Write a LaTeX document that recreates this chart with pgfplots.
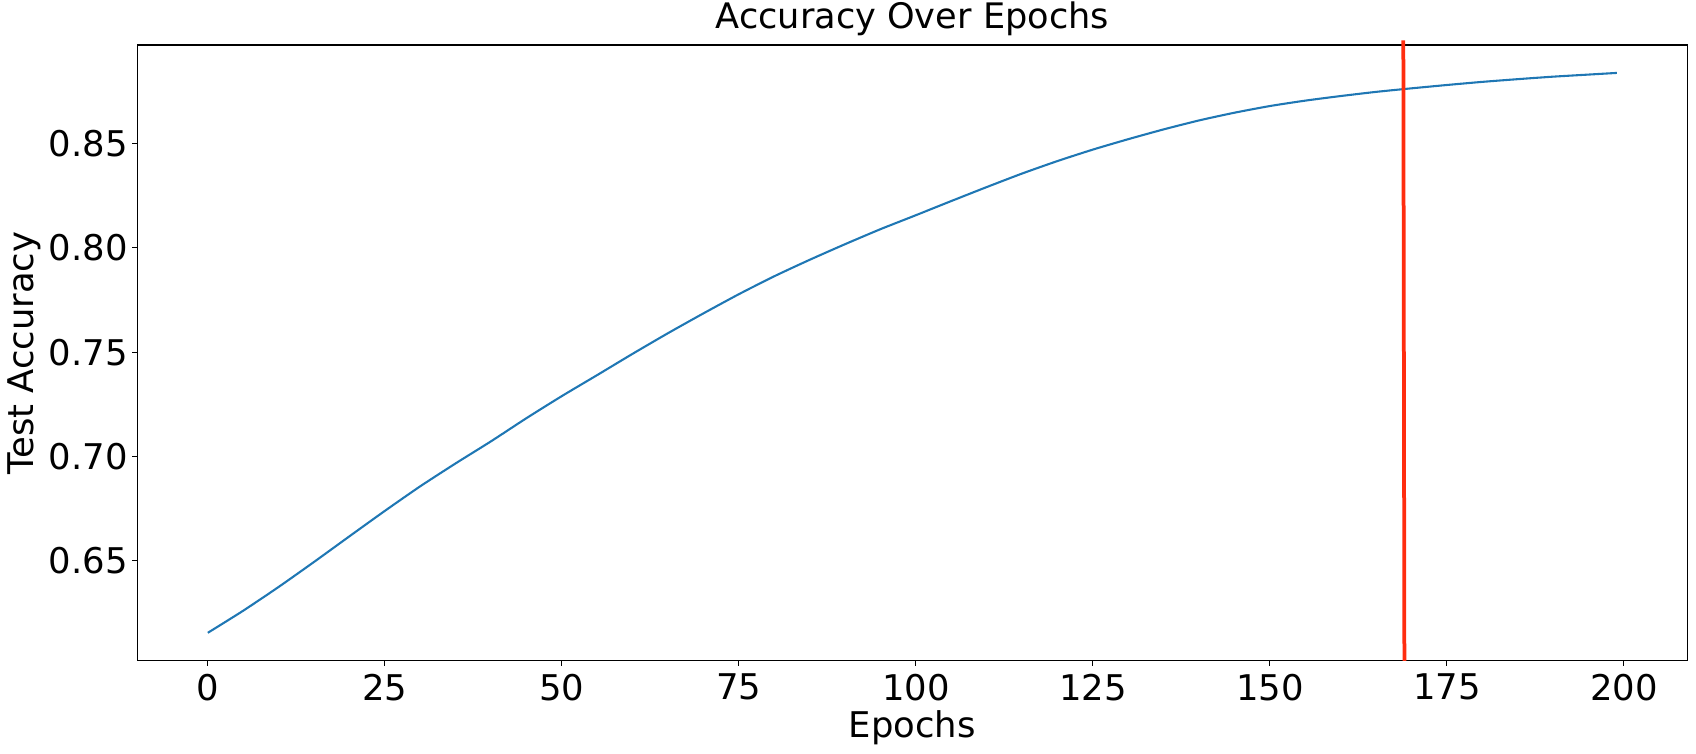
\documentclass[border=0pt]{standalone}
\usepackage{fontspec}
\setmainfont{DejaVu Sans}
\usepackage{pgfplots}
\pgfplotsset{compat=1.18}
\definecolor{mplblue}{HTML}{1F77B4}
\definecolor{redline}{RGB}{255,45,15}
\begin{document}
\begin{tikzpicture}
\begin{axis}[
  name=ax,
  scale only axis,
  width=1116bp, height=443.5bp,
  xmin=-9.95, xmax=208.95,
  ymin=0.6018, ymax=0.8974,
  clip=false,
  xtick={0,25,...,200},
  ytick={0.65,0.70,0.75,0.80,0.85},
  yticklabel style={/pgf/number format/.cd, fixed, fixed zerofill, precision=2},
  xticklabel style={yshift=-2.5bp},
  /pgf/number format/assume math mode=true,
  xtick pos=bottom, ytick pos=left,
  tick align=outside,
  major tick length=3.5bp,
  tick style={black, line width=0.8bp},
  axis line style={line width=0.8bp},
  tick label style={font=\fontsize{25.5bp}{30bp}\selectfont},
  label style={font=\fontsize{25.5bp}{30bp}\selectfont},
  title style={font=\fontsize{25.3bp}{30bp}\selectfont, at={(axis description cs:0.5,1.0135)}, anchor=base},
  title={Accuracy Over Epochs},
  xlabel={Epochs}, ylabel={Test Accuracy},
  xlabel style={at={(axis description cs:0.5,-0.1245)}, anchor=base},
  ylabel style={at={(axis description cs:-0.0672,0.5)}, anchor=base},
]
\addplot[mplblue, line width=1.5bp, smooth, tension=0.4] table {
x y
0 0.6153
5 0.6259
10 0.6373
15 0.6493
20 0.6616
25 0.6738
30 0.6856
35 0.6966
40 0.7072
45 0.7183
50 0.7289
55 0.7390
60 0.7492
65 0.7591
70 0.7686
75 0.7778
80 0.7864
85 0.7943
90 0.8018
95 0.8090
100 0.8157
105 0.8225
110 0.8292
115 0.8357
120 0.8417
125 0.8472
130 0.8522
135 0.8569
140 0.8612
145 0.8649
150 0.8681
155 0.8707
160 0.8729
165 0.8749
170 0.8766
175 0.8782
180 0.8797
185 0.8810
190 0.8822
195 0.8832
199 0.8840
};
\addplot[redline, line width=2.7bp] coordinates {(169,0.6018) (168.85,0.8996)};
\end{axis}
\pgfresetboundingbox
\path ([shift={(-98.9bp,-67bp)}]ax.south west) rectangle ([shift={(6.3bp,32.4bp)}]ax.north east);
\end{tikzpicture}
\end{document}
